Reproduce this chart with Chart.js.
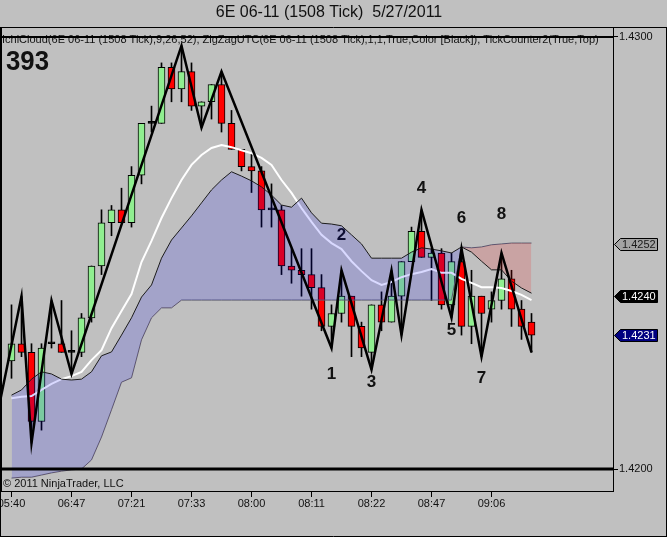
<!DOCTYPE html>
<html><head><meta charset="utf-8">
<script src="https://cdn.jsdelivr.net/npm/chart.js@4.4.0/dist/chart.umd.min.js"></script>
<style>html,body{margin:0;padding:0;background:#c0c0c0;overflow:hidden}canvas{display:block}</style>
</head><body>
<canvas id="c" width="667" height="537"></canvas>
<script>
const titleText = '6E 06-11 (1508 Tick)  5/27/2011';
const indicatorText = 'IchiCloud(6E 06-11 (1508 Tick),9,26,52), ZigZagUTC(6E 06-11 (1508 Tick),1,1,True,Color [Black]), TickCounter2(True,Top)';
const tickCounter = '393';
const copyright = '\u00A9 2011 NinjaTrader, LLC';

const timeTickIdx = [0, 6, 12, 18, 24, 30, 36, 42, 48];
const timeTickLabels = ['05:40', '06:47', '07:21', '07:33', '08:00', '08:11', '08:22', '08:47', '09:06'];
const priceTicks = [1.4300, 1.4200];

const opens = [1.4225,1.4229,1.4227,1.4211,1.4229,1.4229,1.4227,1.4227,1.4235,1.4247,
  1.4257,1.4260,1.4257,1.4268,1.4280,1.4280,1.4293,1.4288,1.4292,1.4284,
  1.4285,1.4289,1.4280,1.4274,1.4270,1.4269,1.4260,1.4260,1.4247,1.4246,
  1.4245,1.4242,1.4233,1.4236,1.4240,1.4233,1.4227,1.4238,1.4234,1.4240,
  1.4248,1.4255,1.4249,1.4250,1.4238,1.4248,1.4233,1.4240,1.4237,1.4239,
  1.4244,1.4237,1.4234];
const highs = [1.4238,1.4240,1.4229,1.4229,1.4239,1.4239,1.4232,1.4236,1.4247,1.4260,
  1.4261,1.4265,1.4270,1.4280,1.4284,1.4294,1.4294,1.4298,1.4294,1.4285,
  1.4289,1.4292,1.4283,1.4274,1.4273,1.4270,1.4266,1.4261,1.4251,1.4251,
  1.4251,1.4245,1.4238,1.4246,1.4240,1.4234,1.4238,1.4241,1.4246,1.4248,
  1.4256,1.4260,1.4251,1.4251,1.4250,1.4251,1.4246,1.4240,1.4241,1.4250,
  1.4246,1.4239,1.4236];
const lows = [1.4221,1.4226,1.4206,1.4209,1.4228,1.4227,1.4222,1.4226,1.4234,1.4245,
  1.4254,1.4257,1.4256,1.4266,1.4278,1.4280,1.4285,1.4285,1.4283,1.4279,
  1.4281,1.4278,1.4274,1.4269,1.4264,1.4256,1.4256,1.4245,1.4243,1.4240,
  1.4237,1.4232,1.4228,1.4234,1.4226,1.4226,1.4223,1.4232,1.4234,1.4231,
  1.4248,1.4249,1.4239,1.4237,1.4235,1.4231,1.4229,1.4226,1.4234,1.4237,
  1.4233,1.4230,1.4227];
const closes = [1.4229,1.4227,1.4211,1.4228,1.4229,1.4227,1.4227,1.4235,1.4247,1.4257,
  1.4260,1.4257,1.4268,1.4280,1.4280,1.4293,1.4288,1.4292,1.4284,1.4285,
  1.4289,1.4280,1.4274,1.4270,1.4269,1.4260,1.4260,1.4247,1.4246,1.4245,
  1.4242,1.4233,1.4236,1.4240,1.4233,1.4228,1.4238,1.4234,1.4240,1.4248,
  1.4255,1.4249,1.4250,1.4238,1.4248,1.4233,1.4240,1.4236,1.4239,1.4244,
  1.4237,1.4233,1.4231];

const whiteLine = [1.42164,1.42167,1.42169,1.42183,1.42197,1.42208,1.42215,1.42225,1.42252,1.42275,
  1.42326,1.42366,1.42405,1.42479,1.42528,1.42581,1.42627,1.42669,1.42704,1.42727,
  1.42743,1.42750,1.42745,1.42738,1.42731,1.42720,1.42704,1.42669,1.42639,1.42604,
  1.42572,1.42542,1.42523,1.42509,1.42481,1.42458,1.42437,1.42426,1.42433,1.42444,
  1.42451,1.42456,1.42463,1.42454,1.42454,1.42440,1.42431,1.42421,1.42421,1.42419,
  1.42412,1.42403,1.42391];
const spanA = [1.42171,1.42183,1.42208,1.42225,1.42220,1.42208,1.42206,1.42208,1.42225,1.42262,
  1.42271,1.42310,1.42350,1.42398,1.42426,1.42488,1.42530,1.42558,1.42586,1.42616,
  1.42646,1.42669,1.42688,1.42678,1.42667,1.42653,1.42634,1.42611,1.42606,1.42627,
  1.42593,1.42569,1.42567,1.42563,1.42542,1.42521,1.42488,1.42488,1.42488,1.42488,
  1.42502,1.42512,1.42509,1.42505,1.42500,1.42514,1.42502,1.42481,1.42461,1.42461,
  1.42435,1.42419,1.42407];
const spanB = [1.41979,1.41981,1.41981,1.41986,1.41991,1.41995,1.41998,1.42000,1.42021,1.42074,
  1.42137,1.42201,1.42211,1.42299,1.42350,1.42373,1.42373,1.42391,1.42391,1.42391,
  1.42391,1.42391,1.42391,1.42391,1.42391,1.42391,1.42391,1.42391,1.42391,1.42391,
  1.42391,1.42391,1.42391,1.42391,1.42391,1.42391,1.42391,1.42391,1.42391,1.42391,
  1.42391,1.42391,1.42391,1.42391,1.42391,1.42514,1.42512,1.42514,1.42519,1.42521,
  1.42523,1.42523,1.42523];

const zigIdx = [-2, 1, 2, 4, 6, 17, 19, 21, 32, 33, 36, 38, 39, 41, 44, 45, 47, 49, 52];
const zigPrice = [1.4206, 1.4240, 1.4206, 1.4239, 1.4222, 1.4298, 1.4279, 1.4292, 1.4228, 1.4246,
  1.4223, 1.4246, 1.4231, 1.4260, 1.4235, 1.4251, 1.4226, 1.4250, 1.4227];

const waveLabels = ['1', '2', '3', '4', '5', '6', '7', '8'];
const waveIdx = [32, 33, 36, 41, 44, 45, 47, 49];
const wavePrice = [1.4222, 1.4254, 1.4220, 1.4265, 1.4232, 1.4258, 1.4221, 1.4259];

const hLines = [1.4300, 1.4200];
const tagValues = [1.4252, 1.4240, 1.4231];
const tagFills = ['#a3a3a3', '#000000', '#000080'];
const tagTextColors = ['#1a1a1a', '#ffffff', '#ffffff'];

const FONT = "'Liberation Sans', Arial, sans-serif";
const idx = opens.map((_, i) => i);

const bodyColors = idx.map(i => closes[i] > opens[i] ? '#90ee90' : (closes[i] < opens[i] ? '#ff0000' : '#000000'));

const datasets = [
  { type: 'bar', label: 'wicks', data: idx.map(i => ({ x: i, y: [lows[i], highs[i]] })),
    backgroundColor: '#000', borderWidth: 0, barThickness: 1, grouped: false, order: 10 },
  { type: 'bar', label: 'bodies', data: idx.map(i => ({ x: i, y: [opens[i], closes[i]] })),
    backgroundColor: bodyColors, borderColor: '#000', borderWidth: 1, borderSkipped: false,
    barThickness: 7, minBarLength: 2, grouped: false, order: 9 },
  { type: 'line', label: 'white', data: idx.map(i => ({ x: i, y: whiteLine[i] })),
    borderColor: '#ffffff', borderWidth: 2, pointRadius: 0, tension: 0, fill: false, order: 8 },
  { type: 'line', label: 'spanB', data: idx.map(i => ({ x: i, y: spanB[i] })),
    borderColor: '#5c5c6e', borderWidth: 1, pointRadius: 0, fill: false, order: 7 },
  { type: 'line', label: 'spanA', data: idx.map(i => ({ x: i, y: spanA[i] })),
    borderColor: '#1c1c1c', borderWidth: 1, pointRadius: 0,
    fill: { target: 3, above: 'rgba(0,0,255,0.15)', below: 'rgba(255,0,0,0.15)' }, order: 6 },
  { type: 'line', label: 'zigzag', data: zigIdx.map((v, k) => ({ x: v, y: zigPrice[k] })),
    borderColor: '#000', borderWidth: 2.5, pointRadius: 0, fill: false, order: 5 },
  { type: 'line', label: 'h1', data: [{ x: -5, y: hLines[0] }, { x: 65, y: hLines[0] }],
    borderColor: '#000', borderWidth: 2, pointRadius: 0, fill: false, order: 4 },
  { type: 'line', label: 'h2', data: [{ x: -5, y: hLines[1] }, { x: 65, y: hLines[1] }],
    borderColor: '#000', borderWidth: 3, pointRadius: 0, fill: false, order: 4 }
];

const deco = {
  id: 'deco',
  beforeDraw(chart) {
    const ctx = chart.ctx;
    ctx.save();
    ctx.fillStyle = '#c0c0c0';
    ctx.fillRect(0, 0, chart.width, chart.height);
    ctx.restore();
  },
  beforeDatasetsDraw(chart) {
    const ctx = chart.ctx;
    ctx.save();
    ctx.fillStyle = '#111';
    ctx.textBaseline = 'middle';
    ctx.textAlign = 'left';
    ctx.font = '11px ' + FONT;
    ctx.fillText(indicatorText, 2, 39.5, 609);
    ctx.font = 'bold 28px ' + FONT;
    ctx.textBaseline = 'alphabetic';
    ctx.fillText(tickCounter, 6, 70, 43);
    ctx.restore();
  },
  afterDatasetDraw(chart, args) {
    if (args.index !== 3) return;
    const ctx = chart.ctx;
    const xs = chart.scales.x, ys = chart.scales.y;
    ctx.save();
    ctx.fillStyle = '#111';
    ctx.font = 'bold 17px ' + FONT;
    ctx.textAlign = 'center';
    ctx.textBaseline = 'middle';
    waveLabels.forEach((t, k) => {
      ctx.fillText(t, xs.getPixelForValue(waveIdx[k]), ys.getPixelForValue(wavePrice[k]));
    });
    ctx.restore();
  },
  afterDraw(chart) {
    const ctx = chart.ctx;
    const xs = chart.scales.x, ys = chart.scales.y;
    const a = chart.chartArea;
    ctx.save();
    // title
    ctx.fillStyle = '#111';
    ctx.font = '16px ' + FONT;
    ctx.textAlign = 'center';
    ctx.textBaseline = 'middle';
    ctx.fillText(titleText, 329, 13);
    // copyright
    ctx.font = '11px ' + FONT;
    ctx.textAlign = 'left';
    ctx.fillText(copyright, 3, 484);
    // frames
    ctx.strokeStyle = '#000';
    ctx.lineWidth = 1;
    ctx.beginPath();
    ctx.moveTo(0, 27.5); ctx.lineTo(667, 27.5);
    ctx.moveTo(a.right + 0.5, 27); ctx.lineTo(a.right + 0.5, a.bottom + 1);
    ctx.moveTo(0, a.bottom + 0.5); ctx.lineTo(a.right + 1, a.bottom + 0.5);
    ctx.moveTo(0.5, 27); ctx.lineTo(0.5, 537);
    ctx.moveTo(1.5, 27); ctx.lineTo(1.5, a.bottom);
    ctx.moveTo(0, 536.5); ctx.lineTo(667, 536.5);
    ctx.moveTo(666.5, 27); ctx.lineTo(666.5, 537);
    // x tick marks
    timeTickIdx.forEach(v => {
      const x = Math.round(xs.getPixelForValue(v) - 0.5) + 0.5;
      ctx.moveTo(x, a.bottom + 1); ctx.lineTo(x, a.bottom + 6);
    });
    // y tick marks
    priceTicks.forEach(v => {
      const y = Math.round(ys.getPixelForValue(v) - 0.5) + 0.5;
      ctx.moveTo(a.right + 1, y); ctx.lineTo(a.right + 5, y);
    });
    ctx.stroke();
    // price tags
    ctx.font = '11px ' + FONT;
    tagValues.forEach((v, k) => {
      const y = Math.round(ys.getPixelForValue(v)) + 0.5;
      const x0 = 614.5, x1 = 620.5, x2 = 657.5, h = 6;
      ctx.beginPath();
      ctx.moveTo(x0, y); ctx.lineTo(x1, y - h); ctx.lineTo(x2, y - h);
      ctx.lineTo(x2, y + h); ctx.lineTo(x1, y + h); ctx.closePath();
      ctx.fillStyle = tagFills[k];
      ctx.fill();
      ctx.strokeStyle = '#000';
      ctx.stroke();
      ctx.fillStyle = tagTextColors[k];
      ctx.textBaseline = 'middle';
      ctx.fillText(v.toFixed(4), 622, y + 0.5);
    });
    ctx.restore();
  }
};

new Chart(document.getElementById('c'), {
  type: 'bar',
  data: { datasets },
  options: {
    responsive: false,
    devicePixelRatio: 1,
    animation: false,
    events: [],
    layout: { padding: { left: 2, top: 28, right: 0, bottom: 0 } },
    plugins: { legend: { display: false }, tooltip: { enabled: false }, title: { display: false } },
    scales: {
      x: {
        type: 'linear', min: -0.95, max: 60.15, offset: false,
        grid: { display: false, drawTicks: false },
        border: { display: false },
        afterBuildTicks: s => { s.ticks = timeTickIdx.map(v => ({ value: v })); },
        afterFit: s => { s.height = 46; s.paddingLeft = 0; s.paddingRight = 0; },
        ticks: {
          autoSkip: false, maxRotation: 0, minRotation: 0, padding: 6,
          color: '#111', font: { family: FONT, size: 11 },
          callback: v => timeTickLabels[timeTickIdx.indexOf(v)]
        }
      },
      y: {
        type: 'linear', position: 'right', min: 1.419491, max: 1.430208,
        grid: { display: false, drawTicks: false },
        border: { display: false },
        afterBuildTicks: s => { s.ticks = priceTicks.map(v => ({ value: v })); },
        afterFit: s => { s.width = 54; s.paddingTop = 0; s.paddingBottom = 0; },
        ticks: {
          padding: 6, color: '#111', font: { family: FONT, size: 11 },
          callback: v => Number(v).toFixed(4)
        }
      }
    }
  },
  plugins: [deco]
});
</script>
</body></html>
